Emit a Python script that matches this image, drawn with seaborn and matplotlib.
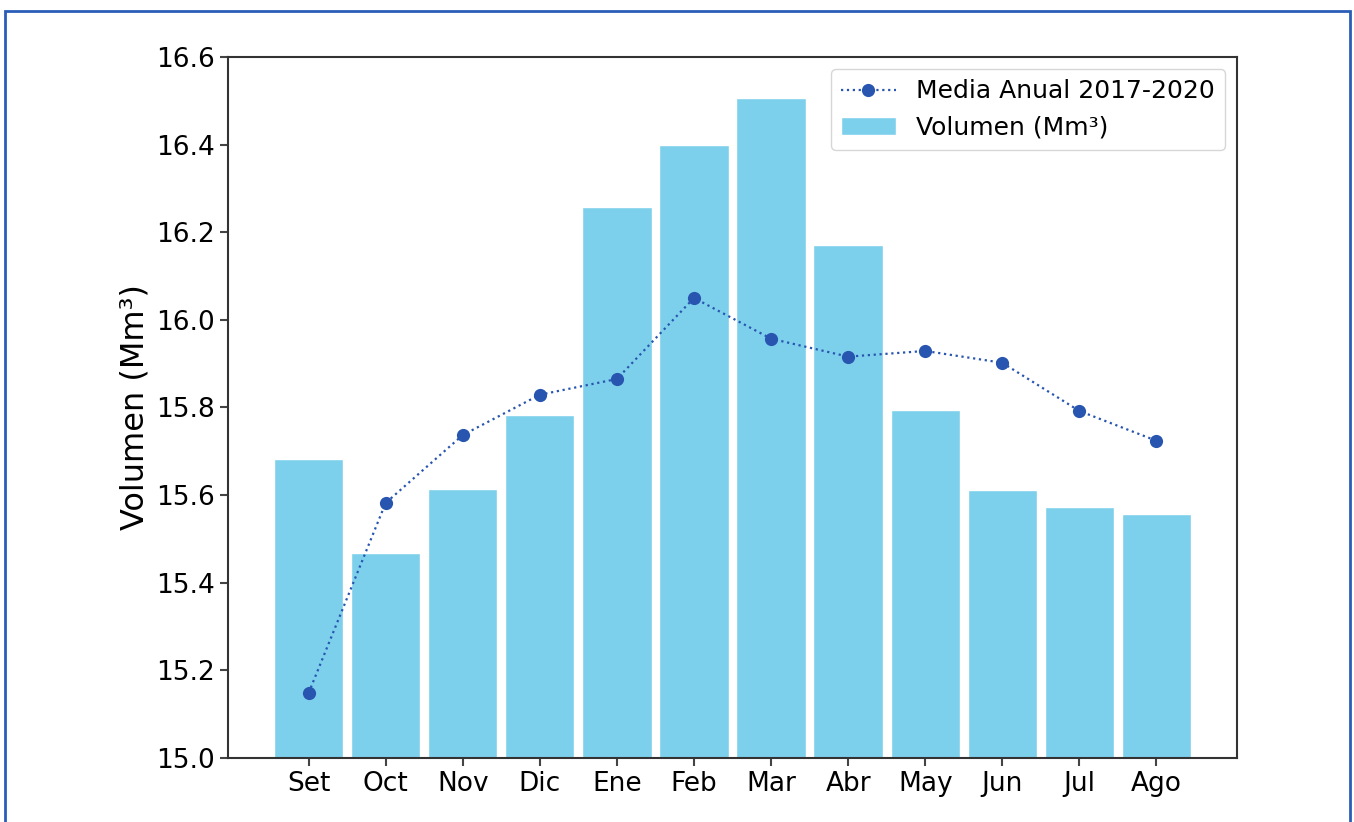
import matplotlib
matplotlib.use("Agg")
import matplotlib.pyplot as plt
from matplotlib.patches import Rectangle
import seaborn as sns
import pandas as pd

meses = ["Set", "Oct", "Nov", "Dic", "Ene", "Feb", "Mar", "Abr", "May", "Jun", "Jul", "Ago"]
volumen = [15.683, 15.468, 15.614, 15.783, 16.258, 16.400, 16.507, 16.171, 15.795, 15.612, 15.573, 15.557]
media_anual = [15.148, 15.582, 15.737, 15.829, 15.865, 16.050, 15.957, 15.916, 15.929, 15.902, 15.792, 15.724]

df = pd.DataFrame({"mes": meses, "volumen": volumen, "media": media_anual})

sns.set_style("white")
plt.rcParams["font.family"] = ["DejaVu Sans"]
plt.rcParams["text.color"] = "black"
plt.rcParams["axes.labelcolor"] = "black"
plt.rcParams["xtick.color"] = "black"
plt.rcParams["ytick.color"] = "black"

fig = plt.figure(figsize=(13.54, 8.22), dpi=100)
ax = fig.add_axes([0.1684, 0.0779, 0.7452, 0.8528])

sns.barplot(data=df, x="mes", y="volumen", color="#7dd0ec", saturation=1,
            width=0.9, label="Volumen (Mm³)", ax=ax, zorder=1)
sns.lineplot(data=df, x="mes", y="media", sort=False, color="#2855b0",
             linestyle=":", linewidth=1.6, marker="o", markersize=9.5,
             markeredgewidth=0, label="Media Anual 2017-2020", ax=ax, zorder=3)

ax.set_ylim(15.0, 16.6)
ax.set_xlim(-1.045, 12.045)
ax.set_xlabel("")
ax.set_ylabel("Volumen (Mm³)", fontsize=23, labelpad=4)
ax.tick_params(axis="both", labelsize=19, length=6, width=1.5,
               labelcolor="black", color="#444444", left=True, bottom=True)
for s in ax.spines.values():
    s.set_color("#333333")
    s.set_linewidth(1.5)

handles, labels = ax.get_legend_handles_labels()
order = [labels.index("Media Anual 2017-2020"), labels.index("Volumen (Mm³)")]
leg = ax.legend([handles[i] for i in order], [labels[i] for i in order],
                loc="upper right", fontsize=18, frameon=True, handlelength=2.2)
leg.get_frame().set_edgecolor("#cccccc")

# marco azul de la captura
fig.patches.append(Rectangle((5 / 1354, -0.05), 1345 / 1354, 1.05 - 11 / 822,
                             transform=fig.transFigure, fill=False,
                             edgecolor="#2a5db8", linewidth=2))

fig.savefig("out.png", dpi=100)
